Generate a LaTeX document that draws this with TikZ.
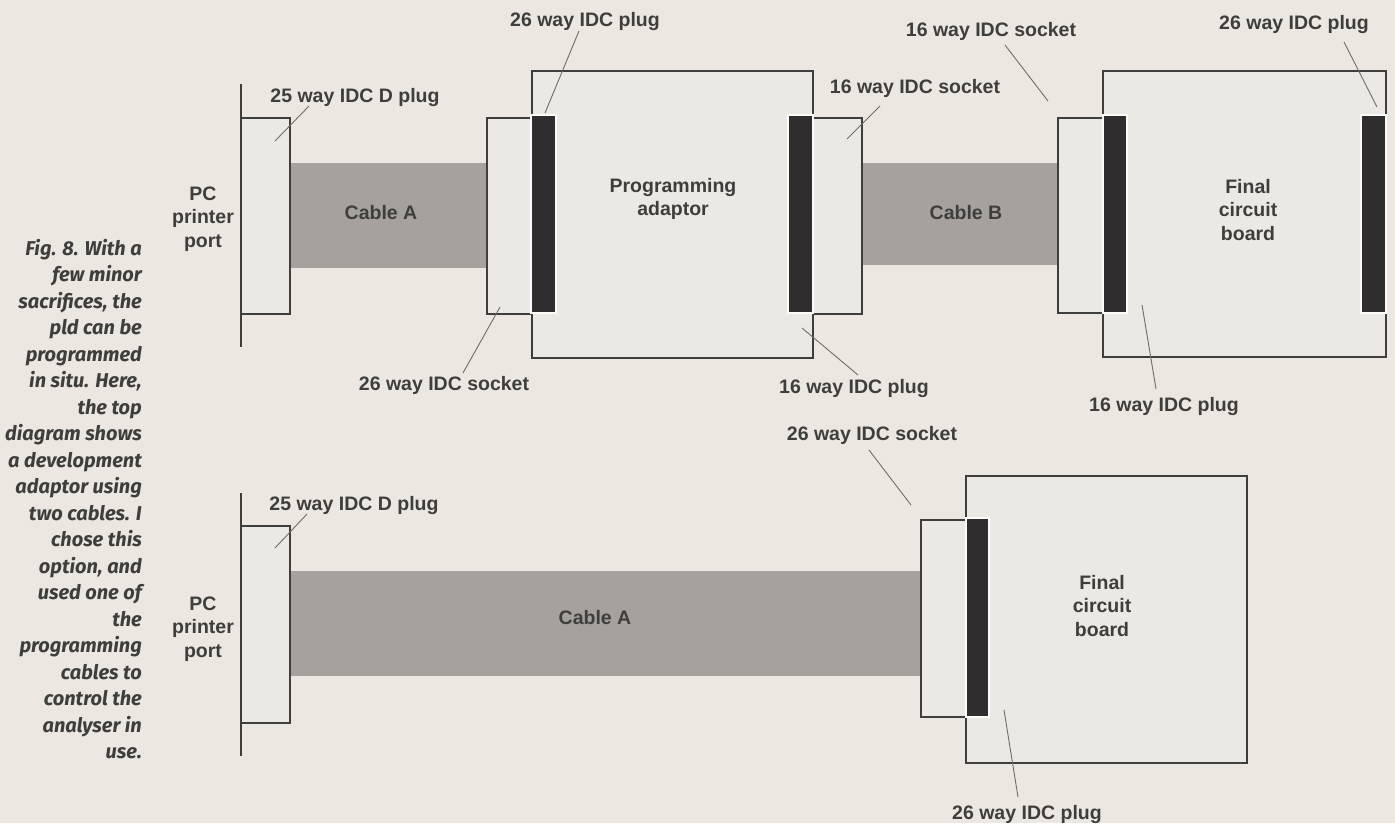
\documentclass[tikz,border=0pt]{standalone}
\usepackage{fontspec}
\setmainfont{Liberation Sans}
\newfontfamily\capfont{Fira Sans}
\definecolor{paper}{RGB}{236,231,224}
\definecolor{boxfill}{RGB}{236,232,227}
\definecolor{cablegrey}{RGB}{166,161,156}
\definecolor{plugblack}{RGB}{47,45,45}
\definecolor{ink}{RGB}{62,62,60}
\definecolor{leadgrey}{RGB}{110,110,105}
\newcommand\lblfont{\fontsize{19.5}{23.7}\selectfont\bfseries}
\tikzset{
 outline/.style={rectangle,draw=ink,fill=boxfill,line width=1.3pt,inner sep=0pt,outer sep=0pt},
 board/.style={outline,line width=2.2pt},
 cable/.style={rectangle,fill=cablegrey,inner sep=0pt,outer sep=0pt},
 idcplug/.style={rectangle,fill=plugblack,draw=white!85!paper,line width=1.5pt,inner sep=0pt,outer sep=0pt},
 lbl/.style={font=\lblfont,text=ink,align=center,inner sep=0pt},
 capline/.style={font=\capfont\fontsize{20}{26.5}\selectfont\bfseries\itshape,text=ink,inner sep=0pt},
 leader/.style={draw=leadgrey,line width=0.9pt},
 port/.style={draw=ink,line width=2.6pt}
}
\begin{document}
\begin{tikzpicture}[x=1pt,y=-1pt]
 \fill[paper] (0,0) rectangle (1395,823);
 \useasboundingbox (0,0) rectangle (1395,823);
 % caption
 \foreach \t [count=\i from 0] in {Fig. 8. With a,few minor,{sacrifices, the},pld can be,programmed,{in situ. Here,},the top,diagram shows,a development,adaptor using,two cables. I,chose this,{option, and},used one of,the,programming,cables to,control the,analyser in,use.}
  \node[capline,anchor=base east] (cap\i) at (142,{255+26.5*\i}) {\t};

 % top: adaptor version
 \coordinate (portT1) at (241,84);
 \coordinate (portT2) at (241,347);
 \draw[port] (portT1) -- (portT2);
 \node[cable,minimum width=197,minimum height=105] (cableA) at (388.5,215.5) {};
 \node[cable,minimum width=196,minimum height=102] (cableB) at (960,214) {};
 \node[outline,minimum width=49,minimum height=196] (dplug) at (265.5,216) {};
 \node[outline,minimum width=44,minimum height=196] (sockA) at (509,216) {};
 \node[board,minimum width=281,minimum height=287] (adaptor) at (672.5,214.5) {};
 \node[outline,minimum width=49,minimum height=196] (sockB) at (837.5,216) {};
 \node[outline,minimum width=45,minimum height=195] (sockC) at (1080.5,215.5) {};
 \node[board,minimum width=283,minimum height=286] (final) at (1244.5,214) {};
 \node[idcplug,minimum width=25,minimum height=198] (plugA) at (543.5,214) {};
 \node[idcplug,minimum width=25,minimum height=198] (plugB) at (800.5,214) {};
 \node[idcplug,minimum width=24,minimum height=198] (plugC) at (1115,214) {};
 \node[idcplug,minimum width=25,minimum height=198] (plugD) at (1373.5,214) {};

 \node[lbl] (pc) at (203,219) {PC\\printer\\port};
 \node[lbl] (cA) at (381,213) {Cable A};
 \node[lbl] (cB) at (966,213) {Cable B};
 \node[lbl] (prog) at (673,199) {Programming\\adaptor};
 \node[lbl] (fin) at (1248,210) {Final\\circuit\\board};
 \node[lbl] (lDplug) at (355,97) {25 way IDC D plug};
 \node[lbl] (lplugA) at (585,21) {26 way IDC plug};
 \node[lbl] (lsockA) at (444,385) {26 way IDC socket};
 \node[lbl] (lsockB) at (915,88) {16 way IDC socket};
 \node[lbl] (lplugB) at (854,388) {16 way IDC plug};
 \node[lbl] (lsockC) at (991,31) {16 way IDC socket};
 \node[lbl] (lplugC) at (1164,406) {16 way IDC plug};
 \node[lbl] (lplugD) at (1294,24) {26 way IDC plug};

 \coordinate (a1) at (309,106);  \coordinate (a2) at (275,141);
 \coordinate (b1) at (579,31);   \coordinate (b2) at (545,113);
 \coordinate (c1) at (463,373);  \coordinate (c2) at (500,307);
 \coordinate (d1) at (880,106);  \coordinate (d2) at (847,139);
 \coordinate (e1) at (858,375);  \coordinate (e2) at (802,328);
 \coordinate (f1) at (1005,45);  \coordinate (f2) at (1048,101);
 \coordinate (g1) at (1156,389); \coordinate (g2) at (1142,305);
 \coordinate (h1) at (1344,42);  \coordinate (h2) at (1377,107);
 \foreach \p in {a,b,c,d,e,f,g,h}{\draw[leader] (\p1) -- (\p2);}

 % bottom: direct cable
 \coordinate (portB1) at (241,493);
 \coordinate (portB2) at (241,756);
 \draw[port] (portB1) -- (portB2);
 \node[cable,minimum width=631,minimum height=105] (cableA2) at (605.5,623.5) {};
 \node[outline,minimum width=49,minimum height=197] (dplug2) at (265.5,624.5) {};
 \node[outline,minimum width=45,minimum height=197] (sockD) at (943.5,618.5) {};
 \node[board,minimum width=281,minimum height=287] (final2) at (1106.5,619.5) {};
 \node[idcplug,minimum width=23,minimum height=199] (plugE) at (977.5,617.5) {};

 \node[lbl] (pc2) at (203,629) {PC\\printer\\port};
 \node[lbl] (cA2) at (595,618) {Cable A};
 \node[lbl] (fin2) at (1102,606) {Final\\circuit\\board};
 \node[lbl] (lDplug2) at (354,505) {25 way IDC D plug};
 \node[lbl] (lsockD) at (872,435) {26 way IDC socket};
 \node[lbl] (lplugE) at (1027,814) {26 way IDC plug};

 \coordinate (i1) at (307,514);  \coordinate (i2) at (275,548);
 \coordinate (j1) at (869,450);  \coordinate (j2) at (911,505);
 \coordinate (k1) at (1018,797); \coordinate (k2) at (1004,710);
 \foreach \p in {i,j,k}{\draw[leader] (\p1) -- (\p2);}
\end{tikzpicture}
\end{document}
